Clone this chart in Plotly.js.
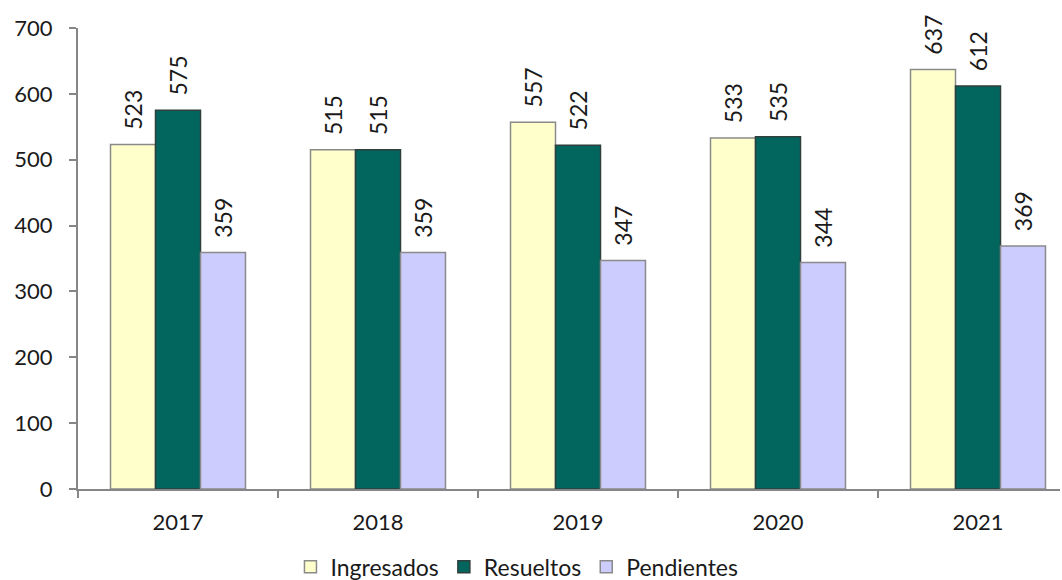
<!DOCTYPE html>
<html><head><meta charset="utf-8">
<script src="https://cdn.plot.ly/plotly-3.0.1.min.js"></script>
<style>html,body{margin:0;padding:0;background:#fff}#chart{width:1062px;height:580px}</style>
</head><body><div id="chart"></div>
<script>
const years = ['2017','2018','2019','2020','2021'];
const ingresados = [523, 515, 557, 533, 637];
const resueltos = [575, 515, 522, 535, 612];
const pendientes = [359, 359, 347, 344, 369];
const seriesNames = ['Ingresados','Resueltos','Pendientes'];
const fills = ['#FFFFCC','#02665F','#CCCCFF'];
const lines = ['#8a8a8a','#2f3f3c','#8a8a8a'];
const font = 'Lato, "Open Sans", sans-serif';
const data = [ingresados, resueltos, pendientes].map((vals, i) => ({
  type: 'bar', name: seriesNames[i], x: years, y: vals,
  text: vals.map(v => '\u00a0\u00a0' + v), textposition: 'outside', textangle: -90,
  textfont: {family: font, size: 23, color: '#1a1a1a'},
  constraintext: 'none', cliponaxis: false,
  marker: {color: fills[i], line: {color: lines[i], width: 1.5}}
}));
const layout = {
  width: 1062, height: 580,
  margin: {l: 78, r: 2, t: 28, b: 91, autoexpand: false},
  paper_bgcolor: '#fff', plot_bgcolor: '#fff',
  barmode: 'group', bargap: 0.325, bargroupgap: 0,
  showlegend: true,
  legend: {orientation: 'h', x: 0.447, xanchor: 'center', y: -0.169, yanchor: 'middle',
    font: {family: font, size: 23, color: '#1a1a1a'}, itemwidth: 30, traceorder: 'normal'},
  xaxis: {type: 'category', range: [-0.5, 4.41], showline: true, linecolor: '#868686', linewidth: 2, ticks: 'outside', ticklen: 7,
    tickcolor: '#868686', tickwidth: 2, tickson: 'boundaries', ticklabelstandoff: 13,
    tickfont: {family: font, size: 22, color: '#1a1a1a'}, showgrid: false, zeroline: false},
  yaxis: {range: [0, 700], dtick: 100, showline: true, linecolor: '#868686', linewidth: 2,
    ticks: 'outside', ticklen: 7, tickcolor: '#868686', tickwidth: 2, ticklabelstandoff: 12,
    tickfont: {family: font, size: 22, color: '#1a1a1a'}, showgrid: false, zeroline: false}
};
Plotly.newPlot('chart', data, layout, {displayModeBar: false, staticPlot: true});
</script></body></html>
